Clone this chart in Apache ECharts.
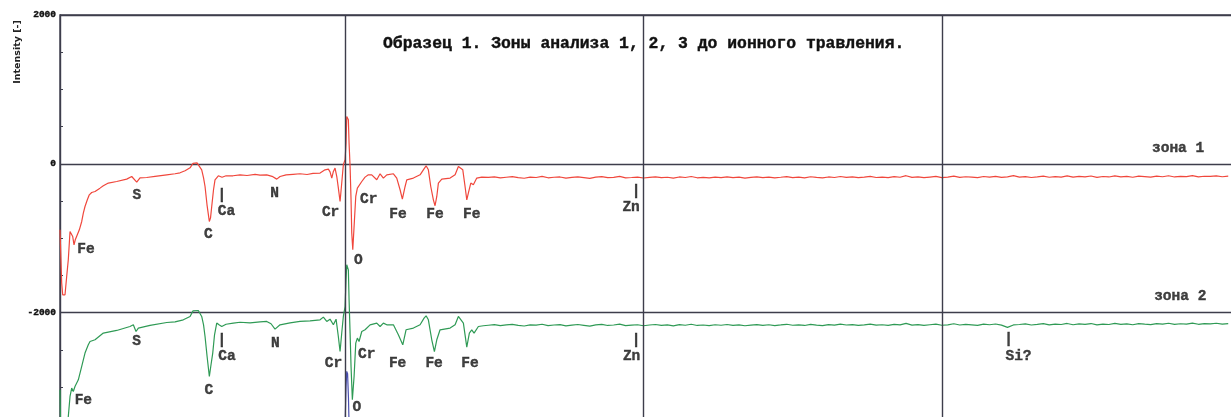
<!DOCTYPE html>
<html>
<head>
<meta charset="utf-8">
<script src="https://cdn.jsdelivr.net/npm/echarts@6/dist/echarts.min.js"></script>
<style>
html,body{margin:0;padding:0;background:#fff;overflow:hidden;}
#chart{width:1231px;height:417px;}
</style>
</head>
<body>
<div id="chart"></div>
<script>
// ---- DATA ----
const titleText = 'Образец 1. Зоны анализа 1, 2, 3 до ионного травления.';
const yTicks = [2000, 0, -2000];
const gridEnergies = [500, 1000, 1500];

// zone 1 (red) – detailed region
const redE = [22,24.8,26.5,30.4,33.2,35.9,38.8,40.4,43.3,45.5,47.6,51,54.4,58.4,61.1,63.9,67.8,71.1,75.1,80.7,89,94.6,103,117,133.8,142.2,144.9,150.6,153.3,156.1,167.3,181.3,200.9,214.8,223.2,231.6,240,245,248.3,251.7,253.8,259.5,262.6,265.1,268.4,272.3,274.3,276.3,279.3,281.8,287.4,293.6,300.3,312,323.8,335.5,348.9,357.3,368.5,377.4,385.3,390.8,400.9,412.6,424.3,436.1,446.1,457.9,461.2,466.2,471.8,474.6,477.5,480.2,483,485.9,488.5,491.4,494.2,496.9,499.8,501.4,502.6,505.3,506.5,508.2,509.8,511,512.7,514.9,517.7,520.4,523.2,527.8,533.3,538.8,544.5,552.9,558.5,564,569.7,580.8,586.4,592,595.8,600.4,603.2,614.3,625.5,631,635.6,639.4,643.4,647.8,650.6,653.5,656.2,661.9,675.8,684.2,689.7,692.6,697.1,700.9,703.8,706.4,710.5,714.8,720.5,728.9];
const redI = [-887,-1599,-1761,-1761,-1515,-1290,-910,-887,-977,-1089,-1021,-954,-887,-775,-663,-574,-484,-417,-386,-372,-327,-296,-259,-238,-206,-171,-161,-246,-224,-188,-184,-168,-148,-134,-121,-94,-54,7,31,13,0,-81,-188,-305,-551,-775,-726,-574,-349,-215,-161,-181,-161,-161,-148,-157,-141,-152,-148,-168,-206,-171,-148,-141,-134,-144,-128,-125,-108,-81,-71,-108,-192,-103,-58,-171,-323,-507,-259,-13,54,278,636,591,278,-36,-484,-931,-1156,-843,-439,-327,-349,-238,-179,-148,-148,-215,-134,-192,-148,-134,-192,-349,-474,-305,-215,-192,-148,-81,-27,-81,-305,-484,-564,-439,-259,-206,-192,-148,-36,-13,-81,-305,-484,-394,-259,-282,-192,-179];

// zone 2 (green) – detailed region
const greenE = [22,22.8,25.4,30.4,33.7,35.9,38.8,41.6,44.3,47.1,52.7,58.4,63.9,69.4,72.3,75.1,80.7,94.6,117,139.3,144.9,149.4,153.3,156.1,172.9,200.9,214.8,228.7,240,245,248.3,253.8,259.5,262.6,265.1,268.4,272.3,275.1,278,281,284.7,288.5,293.1,300.3,312.5,323.8,340.5,357.3,368.5,375.7,382.4,390.8,407.6,424.3,441.1,457.9,463.4,469.1,474.6,480.2,484.7,488.5,491.4,494.2,496.9,499.8,501.4,502.6,505.3,506.5,508.2,509.8,512,514.9,517.7,520.4,523.2,527.8,533.3,541.7,552.9,558.5,564,569.7,580.8,589.1,596.5,602,614.3,625.5,632.2,635.6,639.4,645.1,649.5,653.5,659,675.8,684.2,689.7,692.6,698.1,703.8,708.1,712.1,716,723.2,731.6];
const greenI = [-3037,-3440,-3800,-3800,-3575,-3396,-3127,-3015,-3060,-2993,-2903,-2724,-2544,-2433,-2388,-2410,-2365,-2275,-2240,-2187,-2164,-2254,-2208,-2187,-2171,-2133,-2124,-2097,-2052,-1976,-1953,-1972,-2052,-2164,-2321,-2580,-2859,-2701,-2544,-2298,-2141,-2164,-2187,-2157,-2141,-2130,-2137,-2124,-2119,-2150,-2222,-2164,-2137,-2119,-2110,-2097,-2061,-2119,-2088,-2164,-2088,-2321,-2523,-2275,-2052,-1918,-1559,-1357,-1425,-1828,-2275,-2724,-3172,-2859,-2410,-2343,-2388,-2254,-2231,-2164,-2141,-2187,-2141,-2164,-2164,-2298,-2433,-2231,-2208,-2164,-2074,-2043,-2097,-2365,-2523,-2365,-2231,-2208,-2164,-2052,-2029,-2141,-2463,-2275,-2231,-2275,-2187,-2177];

// flat tails, sampled every 10 eV from 740 eV
const tailStart = 740, tailStep = 10;
const redTail = [-183,-176,-190,-181,-172,-186,-194,-179,-184,-170,
-188,-181,-177,-192,-183,-175,-185,-196,-180,-173,
-187,-182,-170,-189,-184,-178,-191,-182,-176,-186,
-181,-193,-177,-184,-171,-188,-182,-190,-179,-185,
-175,-187,-180,-192,-183,-176,-186,-178,-189,-181,
-172,-185,-179,-188,-174,-183,-190,-177,-184,-171,
-182,-176,-187,-180,-169,-184,-178,-186,-173,-181,
-160,-183,-176,-187,-178,-170,-185,-179,-165,-182,
-174,-180,-186,-171,-178,-168,-183,-175,-160,-179,
-172,-184,-176,-166,-181,-173,-178,-162,-180,-170,
-175,-164,-182,-171,-177,-163,-176,-169,-181,-166,
-172,-178,-165,-174,-161,-177,-168,-173,-159,-175,
-167,-170,-162,-174,-166];
const greenTail = [-2170,-2162,-2176,-2166,-2158,-2172,-2180,-2165,-2169,-2157,
-2174,-2167,-2161,-2178,-2168,-2160,-2171,-2182,-2166,-2158,
-2173,-2167,-2155,-2175,-2169,-2163,-2177,-2167,-2160,-2172,
-2166,-2178,-2162,-2170,-2157,-2173,-2167,-2175,-2163,-2170,
-2160,-2172,-2165,-2177,-2168,-2161,-2171,-2163,-2174,-2166,
-2157,-2170,-2164,-2173,-2159,-2168,-2176,-2162,-2169,-2156,
-2167,-2161,-2172,-2165,-2154,-2169,-2163,-2171,-2158,-2166,
-2145,-2168,-2161,-2172,-2163,-2155,-2170,-2164,-2150,-2167,
-2159,-2165,-2171,-2156,-2163,-2153,-2168,-2198,-2166,-2160,
-2152,-2167,-2158,-2148,-2164,-2155,-2160,-2146,-2163,-2152,
-2157,-2147,-2165,-2154,-2160,-2145,-2158,-2151,-2163,-2148,
-2155,-2161,-2147,-2156,-2143,-2159,-2150,-2155,-2141,-2157,
-2148,-2152,-2143,-2156,-2147];

// zone 3 (blue) – mostly below the visible range
const blueE = [22,60,150,270,400,480,496,499.5,501.4,502.6,504,505.5,507,509,512,520,600,700,1000,1500,1988];
const blueI = [-5200,-4600,-4250,-4800,-4150,-4130,-4000,-3600,-3000,-2790,-2820,-3150,-3700,-4500,-5100,-4350,-4300,-4200,-4170,-4160,-4150];

// annotations
const zone1Labels = ['Fe','S','C','|','Ca','N','Cr','O','Cr','Fe','Fe','Fe','|','Zn','зона 1'];
const zone1LabelE = [65.6,150.6,270.6,293.1,301.1,381.6,475.5,522,539.5,588.6,650.6,712.2,987.6,979.2,1896];
const zone1LabelI = [-1156,-430,-954,-420,-638,-403,-659,-1304,-484,-685,-685,-685,-376,-591,202];
const zone2Labels = ['Fe','S','C','|','Ca','N','Cr','O','Cr','Fe','Fe','Fe','|','Zn','|','Si?','зона 2'];
const zone2LabelE = [61.1,150.2,271.3,293.1,302,383,480.2,519.4,536.1,587.8,649,709.3,987.6,980,1611.7,1628.5,1899.6];
const zone2LabelI = [-3181,-2388,-3051,-2379,-2590,-2419,-2681,-3273,-2567,-2679,-2679,-2679,-2372,-2590,-2366,-2590,-1788];

// ---- BUILD ----
function pairs(E, I){ return E.map((e,i)=>[e, I[i]]); }
function tail(vals){ return vals.map((v,i)=>[tailStart + i*tailStep, v]); }
const redData = pairs(redE, redI).concat(tail(redTail));
const greenData = pairs(greenE, greenI).concat(tail(greenTail));
const blueData = pairs(blueE, blueI);
function labelData(names, E, I){ return names.map((n,i)=>({name:n, value:[E[i], I[i]]})); }
const allLabels = labelData(zone1Labels, zone1LabelE, zone1LabelI).concat(labelData(zone2Labels, zone2LabelE, zone2LabelI));

const lineCol = '#3d3d4b';
const mono = '"Liberation Mono", "Courier New", monospace';

const chart = echarts.init(document.getElementById('chart'), null, {renderer:'canvas'});
chart.setOption({
  animation: false,
  backgroundColor: '#fff',
  title: {
    text: titleText, left: 383, top: 36, padding: 0,
    textStyle: {fontFamily: mono, fontWeight: 'bold', fontSize: 16.4, color: '#111',
                textBorderColor: '#111', textBorderWidth: 0.4}
  },
  graphic: [{
    type: 'text', x: 18, y: 52, rotation: Math.PI/2,
    style: {text: 'Intensity [-]', fontFamily: '"DejaVu Sans", sans-serif', fontSize: 9.5, fontWeight: 'bold',
            fill: '#222', textAlign: 'center', textVerticalAlign: 'middle'}
  }],
  grid: {left: 60, top: 15, width: 1173, height: 446.4, containLabel: false, outerBoundsMode: 'none',
         show: true, borderColor: lineCol, borderWidth: 1.4},
  xAxis: {
    type: 'value', min: 22, max: 1988,
    axisLine: {show: false}, axisTick: {show: false}, axisLabel: {show: false}, splitLine: {show: false}
  },
  yAxis: {
    type: 'value', min: -4000, max: 2000, interval: 2000,
    axisLine: {show: true, lineStyle: {color: lineCol, width: 1.4}},
    axisTick: {show: true, inside: true, length: 3, lineStyle: {color: lineCol}},
    minorTick: {show: true, splitNumber: 4, length: 3, lineStyle: {color: lineCol}},
    axisLabel: {
      margin: 4, fontFamily: mono, fontWeight: 'bold', fontSize: 9.5, color: '#111',
      textBorderColor: '#111', textBorderWidth: 0.4,
      formatter: v => yTicks.indexOf(v) >= 0 ? String(v) : ''
    },
    splitLine: {show: true, lineStyle: {color: lineCol, width: 1.4}}
  },
  series: [
    {
      type: 'line', data: blueData, showSymbol: false, symbol: 'none',
      lineStyle: {color: '#4a4fb0', width: 1.2}, z: 2
    },
    {
      type: 'line', data: greenData, showSymbol: false, symbol: 'none',
      lineStyle: {color: '#2f9a55', width: 1.2}, z: 3
    },
    {
      type: 'line', data: redData, showSymbol: false, symbol: 'none',
      lineStyle: {color: '#f0473c', width: 1.2}, z: 4,
      markLine: {
        silent: true, symbol: ['none','none'], label: {show: false},
        lineStyle: {color: lineCol, width: 1.4, type: 'solid'},
        data: gridEnergies.map(e => ({xAxis: e}))
      }
    },
    {
      type: 'scatter', data: allLabels, symbolSize: 1, itemStyle: {color: 'rgba(0,0,0,0)'},
      silent: true, z: 5,
      label: {show: true, position: 'inside', formatter: '{b}',
              fontFamily: mono, fontWeight: 'bold', fontSize: 14.5, color: '#111',
              textBorderColor: '#111', textBorderWidth: 0.4}
    }
  ]
});
</script>
</body>
</html>
